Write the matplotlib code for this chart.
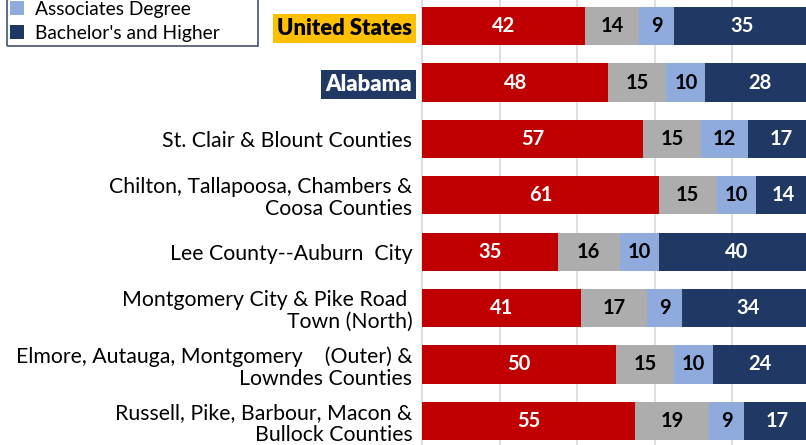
import matplotlib.pyplot as plt
from matplotlib.patches import Rectangle
import numpy as np

plt.rcParams['font.family'] = ['Lato', 'DejaVu Sans']

# education attainment shares (%) by area
areas = ['United States', 'Alabama', 'St. Clair & Blount Counties',
         'Chilton, Tallapoosa, Chambers &\nCoosa Counties',
         'Lee County--Auburn  City',
         'Montgomery City & Pike Road \nTown (North)',
         'Elmore, Autauga, Montgomery    (Outer) &\nLowndes Counties',
         'Russell, Pike, Barbour, Macon &\nBullock Counties']
hs_or_less = [42, 48, 57, 61, 35, 41, 50, 55]
some_college = [14, 15, 15, 15, 16, 17, 15, 19]
associates = [9, 10, 12, 10, 10, 9, 10, 9]
bachelors = [35, 28, 17, 14, 40, 34, 24, 17]

series = [('High School or Less', hs_or_less, '#C00000', 'white'),
          ('Some College, No Degree', some_college, '#ADADAD', 'black'),
          ('Associates Degree', associates, '#8FAADC', 'black'),
          ("Bachelor's and Higher", bachelors, '#203864', 'white')]

W, H = 806, 445
fig = plt.figure(figsize=(W / 100, H / 100), dpi=100)
ax = fig.add_axes([422 / W, 1 - 449 / H, 388 / W, 451 / H])

y = np.arange(len(areas))
left = np.zeros(len(areas))
handles = []
for name, vals, col, tcol in series:
    vals = np.array(vals)
    bars = ax.barh(y, vals, left=left, height=0.68, color=col, label=name, zorder=3)
    handles.append(bars)
    for b, v in zip(bars, vals):
        ax.text(b.get_x() + b.get_width() / 2, b.get_y() + b.get_height() / 2,
                str(v), ha='center', va='center', color=tcol,
                fontsize=14.5, fontweight='bold', zorder=4)
    left += vals

ax.set_xlim(0, 100)
ax.set_ylim(len(areas) - 0.5, -0.5)
ax.set_xticks([20, 40, 60, 80])
ax.xaxis.grid(True, color='#D9D9D9', lw=1.2, zorder=0)
ax.tick_params(left=False, bottom=False, labelbottom=False)
for s in ['top', 'right', 'bottom']:
    ax.spines[s].set_visible(False)
ax.spines['left'].set_color('#D9D9D9')
ax.spines['left'].set_linewidth(1.2)

ax.set_yticks(y)
ax.set_yticklabels(areas, fontsize=15.3, linespacing=1.12)
ax.tick_params(axis='y', pad=7, length=0)
labels = ax.get_yticklabels()
labels[0].set_fontweight('heavy')
labels[0].set_fontsize(15.8)
labels[0].set_bbox(dict(facecolor='#FFC000', edgecolor='none', pad=3))
labels[1].set_fontweight('heavy')
labels[1].set_fontsize(15.8)
labels[1].set_color('white')
labels[1].set_bbox(dict(facecolor='#203864', edgecolor='none', pad=3))

# legend box runs off the top edge; only the lower entries show
leg = fig.legend(handles[2:], [s[0] for s in series[2:]],
                 loc='lower left', bbox_to_anchor=(10 / W, 1 - 42 / H),
                 fontsize=13.9, frameon=False, handlelength=0.7,
                 handleheight=0.7, borderaxespad=0, labelspacing=0.38,
                 handletextpad=0.6, borderpad=0)
fig.patches.append(Rectangle((7 / W, 1 - 46 / H), 251 / W, 70 / H,
                             transform=fig.transFigure, fill=False,
                             edgecolor='#44546A', lw=1.2))

fig.savefig('out.png', dpi=100)
